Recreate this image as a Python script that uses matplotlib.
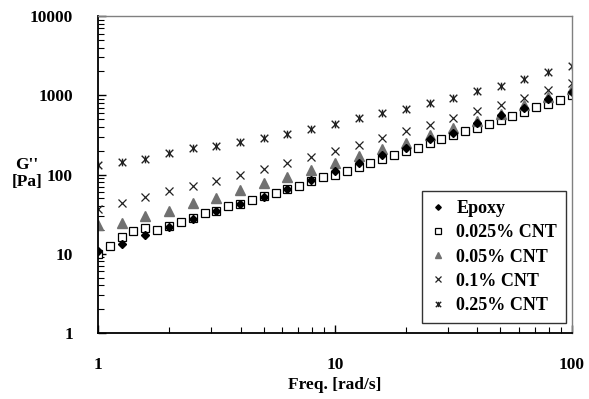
import numpy as np
import matplotlib
matplotlib.use("Agg")
import matplotlib.pyplot as plt
from matplotlib.path import Path
from matplotlib.ticker import LogLocator, FixedLocator, NullFormatter

# ---- data ----
freq_10 = [1.0, 1.26, 1.58, 2.0, 2.51, 3.16, 3.98, 5.01, 6.31, 7.94,
           10.0, 12.6, 15.8, 20.0, 25.1, 31.6, 39.8, 50.1, 63.1, 79.4, 100.0]
freq_20 = [1.0, 1.12, 1.26, 1.41, 1.58, 1.78, 2.0, 2.24, 2.51, 2.82,
           3.16, 3.55, 3.98, 4.47, 5.01, 5.62, 6.31, 7.08, 7.94, 8.91,
           10.0, 11.2, 12.6, 14.1, 15.8, 17.8, 20.0, 22.4, 25.1, 28.2,
           31.6, 35.5, 39.8, 44.7, 50.1, 56.2, 63.1, 70.8, 79.4, 89.1, 100.0]

epoxy = [10.7, 13.4, 17.0, 21.5, 27.5, 34.3, 42.9, 52.7, 65.9, 86.4,
         110, 138, 174, 218, 277, 337, 442, 558, 699, 908, 1100]
cnt_0025 = [10.0, 12.4, 16.4, 19.2, 21.0, 19.9, 22.5, 25.4, 28.0, 32.4,
            34.5, 39.7, 43.0, 48.3, 53.0, 58.0, 65.0, 72.6, 84.0, 92.4,
            100, 112, 124, 139, 158, 174, 197, 218, 249, 277,
            315, 353, 390, 430, 483, 547, 615, 705, 785, 883, 1009]
cnt_005 = [23.3, 24.5, 29.7, 34.3, 43.8, 51.0, 64.6, 79.2, 93.5, 113,
           141, 171, 211, 252, 312, 385, 473, 587, 747, 963, 1190]
cnt_01 = [37.0, 44.0, 52.0, 62.7, 72.6, 84.0, 98.5, 118, 138, 168,
          197, 238, 288, 350, 426, 514, 633, 754, 935, 1157, 1420]
cnt_025 = [130, 143, 158, 188, 213, 228, 254, 287, 321, 379,
           438, 516, 592, 679, 808, 935, 1133, 1312, 1595, 1937, 2350]

labels = ["Epoxy", "0.025% CNT", "0.05% CNT", "0.1% CNT", "0.25% CNT"]
x_ticks = [1, 10, 100]
x_ticklabels = ["1", "10", "100"]
y_ticks = [1, 10, 100, 1000, 10000]
y_ticklabels = ["1", "10", "100", "1000", "10000"]

# ---- style ----
plt.rcParams['font.family'] = ['Liberation Serif', 'DejaVu Serif']
plt.rcParams['font.weight'] = 'bold'

star_path = Path(
    [(-1, -1), (1, 1), (-1, 1), (1, -1), (0, -1), (0, 1)],
    [Path.MOVETO, Path.LINETO, Path.MOVETO, Path.LINETO, Path.MOVETO, Path.LINETO])

fig = plt.figure(figsize=(5.89, 3.99), dpi=100)
ax = fig.add_axes([0.1664, 0.1654, 0.9706 - 0.1664, 0.9599 - 0.1654])

ax.plot(freq_10, epoxy, linestyle='none', marker='D', ms=4, color='black',
        label=labels[0], zorder=2.3)
ax.plot(freq_20, cnt_0025, linestyle='none', marker='s', ms=5.2, mfc='white',
        mec='black', mew=0.9, label=labels[1], zorder=2.0)
ax.plot(freq_10, cnt_005, linestyle='none', marker='^', ms=6.5, color='#707070',
        label=labels[2], zorder=2.1)
ax.plot(freq_10, cnt_01, linestyle='none', marker='x', ms=6, color='#222222',
        mew=0.9, label=labels[3], zorder=2.4)
ax.plot(freq_10, cnt_025, linestyle='none', marker=star_path, ms=5.5,
        color='#222222', mew=1.0, label=labels[4], zorder=2.5)

ax.set_xscale('log')
ax.set_yscale('log')
ax.set_xlim(1, 100)
ax.set_ylim(1, 10000)

ax.xaxis.set_major_locator(FixedLocator(x_ticks))
ax.set_xticklabels(x_ticklabels)
ax.yaxis.set_major_locator(FixedLocator(y_ticks))
ax.set_yticklabels(y_ticklabels)
ax.xaxis.set_minor_locator(LogLocator(base=10, subs=np.arange(2, 10)))
ax.yaxis.set_minor_locator(LogLocator(base=10, subs=np.arange(2, 10)))
ax.xaxis.set_minor_formatter(NullFormatter())
ax.yaxis.set_minor_formatter(NullFormatter())

ax.tick_params(which='major', direction='in', length=6, width=1.0,
               labelsize=12.5, top=False, right=False)
ax.tick_params(which='minor', direction='in', length=4, width=0.8,
               top=False, right=False)
ax.tick_params(axis='y', which='major', pad=18)
ax.tick_params(axis='x', which='major', pad=17)
for lab in ax.get_xticklabels() + ax.get_yticklabels():
    lab.set_fontweight('bold')

ax.spines['left'].set_color('black')
ax.spines['bottom'].set_color('black')
ax.spines['left'].set_linewidth(1.3)
ax.spines['bottom'].set_linewidth(1.3)
ax.spines['top'].set_color('#808080')
ax.spines['right'].set_color('#808080')
ax.spines['top'].set_linewidth(1.0)
ax.spines['right'].set_linewidth(1.0)

ax.set_xlabel("Freq. [rad/s]", fontsize=12.5, fontweight='bold', labelpad=3)
fig.text(0.046, 0.565, "G''\n[Pa]", ha='center', va='center', fontsize=12.5,
         fontweight='bold', linespacing=1.15)

leg = ax.legend(loc='lower right', bbox_to_anchor=(0.988, 0.0315),
                frameon=True, fancybox=False, edgecolor='black',
                prop={'weight': 'bold', 'size': 13},
                handlelength=0.8, handletextpad=0.6, borderpad=0.5,
                borderaxespad=0, labelspacing=0.4, markerscale=0.7)
leg.get_frame().set_linewidth(1.0)
leg._legend_box.align = "left"

fig.savefig("out.png", dpi=100)
